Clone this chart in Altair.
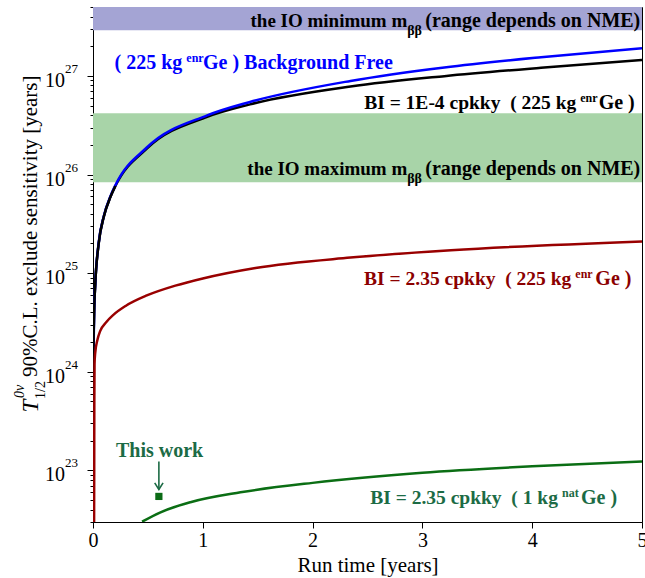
import altair as alt
import pandas as pd

FONT = "Liberation Serif"

# ---------------- data ----------------
# run time [years] and T1/2 sensitivity [years]
blue_t = [0.003, 0.01, 0.021, 0.051, 0.10, 0.158, 0.204, 0.49, 1.04, 1.43, 2.345, 3.2, 4.08, 5.0]
blue_v = [1.15e24, 3.85e24, 8.0e24, 2.0e25, 3.85e25, 6.0e25, 7.8e25, 1.88e26, 3.98e26, 5.45e26, 8.9e26, 1.22e27, 1.55e27, 1.91e27]

black_t = [0.002, 0.004, 0.01, 0.021, 0.051, 0.10, 0.158, 0.204, 0.49, 1.04, 1.43, 2.345, 3.2, 4.08, 5.0]
black_v = [3.0e23, 1.5e24, 3.85e24, 7.9e24, 1.97e25, 3.8e25, 5.9e25, 7.65e25, 1.83e26, 3.85e26, 5.15e26, 7.8e26, 9.95e26, 1.21e27, 1.45e27]

red_t = [0.010, 0.011, 0.012, 0.014, 0.02, 0.04, 0.066, 0.12, 0.188, 0.30, 0.49, 0.75, 1.0, 1.48, 2.345, 3.26, 5.0]
red_v = [3.0e22, 1.0e23, 5.0e23, 1.2e24, 1.55e24, 2.1e24, 2.6e24, 3.18e24, 3.8e24, 4.68e24, 5.95e24, 7.48e24,
         8.85e24, 1.13e25, 1.44e25, 1.71e25, 2.10e25]

green_t = [0.447, 0.61, 0.887, 1.343, 2.0, 3.0, 4.0, 5.0]
green_v = [3.02e22, 3.74e22, 4.76e22, 6.0e22, 7.48e22, 9.46e22, 1.10e23, 1.23e23]

# "This work" point
point_t = [0.6]
point_v = [5.45e22]

# IO bands (lower, upper)
band_lo = [2.91e27, 8.34e25]
band_hi = [5.0e27, 4.18e26]

# axis ticks
x_ticks = [0, 1, 2, 3, 4, 5]
y_major_exp = [23, 24, 25, 26, 27]

# annotation texts
txt_io_min = ["the IO minimum m", "ββ", "(range depends on NME)"]
txt_io_max = ["the IO maximum m", "ββ", "(range depends on NME)"]
txt_bf = ["( 225 kg", "enr", "Ge ) Background Free"]
txt_bi4 = ["BI = 1E-4 cpkky\u00a0\u00a0( 225 kg", "enr", "Ge )"]
txt_bi235 = ["BI = 2.35 cpkky\u00a0\u00a0( 225 kg", "enr", "Ge )"]
txt_nat = ["BI = 2.35 cpkky\u00a0\u00a0( 1 kg", "nat", "Ge )"]
txt_this = "This work"

# ---------------- layout ----------------
W, H = 549, 515
X0, X1 = 0, 5
Y0, Y1 = 3e22, 5e27

xscale = alt.Scale(domain=[X0, X1], nice=False, zero=False)
yscale = alt.Scale(type="log", domain=[Y0, Y1], nice=False)

y_tick_values = []
for e in range(22, 28):
    for m in range(1, 10):
        val = m * 10.0 ** e
        if Y0 * 0.999 <= val <= Y1 * 1.001:
            y_tick_values.append(val)

major_test = "abs(log(datum.value)/LN10 - round(log(datum.value)/LN10)) < 0.001"

xaxis = alt.Axis(values=x_ticks, format="d", title="Run time [years]",
                 titleFont=FONT, titleFontSize=21, titleFontWeight="normal",
                 titleColor="black", titlePadding=4,
                 labelFont=FONT, labelFontSize=20, labelColor="black",
                 labelPadding=2, tickSize=6, tickColor="black",
                 domainColor="black", grid=False, labelFlush=False)
yaxis = alt.Axis(values=y_tick_values, labels=False, title=None, grid=False,
                 tickColor="black", domainColor="black",
                 tickSize={"condition": {"test": major_test, "value": 6}, "value": 3})

X = alt.X("t:Q", scale=xscale, axis=xaxis)
Y = alt.Y("v:Q", scale=yscale, axis=yaxis)

layers = []

# bands
band_colors = ["#a4a4d4", "#a8d4a8"]
for lo, hi, c in zip(band_lo, band_hi, band_colors):
    df = pd.DataFrame({"t": [X0], "t2": [X1], "v": [lo], "v2": [hi]})
    layers.append(alt.Chart(df).mark_rect(color=c, clip=True).encode(
        x=X, x2="t2:Q", y=Y, y2="v2:Q"))


def curve(t, v, color):
    df = pd.DataFrame({"t": t, "v": v})
    return alt.Chart(df).mark_line(color=color, strokeWidth=2.5,
                                   interpolate="monotone", clip=True).encode(x=X, y=Y)


layers.append(curve(black_t, black_v, "black"))
layers.append(curve(blue_t, blue_v, "#0000ff"))
layers.append(curve(black_t, black_v, "black").transform_filter("datum.t < 0.25"))
layers.append(curve(red_t, red_v, "#990000"))
layers.append(curve(green_t, green_v, "#0b6e14"))

# "This work" point + arrow
GREEN_TXT = "#1c6b45"
pdf = pd.DataFrame({"t": point_t, "v": point_v})
layers.append(alt.Chart(pdf).mark_square(size=52, color="#0b6b16", opacity=1).encode(x=X, y=Y))
arr = pd.DataFrame({"t": [0.6], "v": [1.23e23], "v2": [6.4e22]})
layers.append(alt.Chart(arr).mark_rule(color=GREEN_TXT, strokeWidth=1.6).encode(x=X, y=Y, y2="v2:Q"))
tip = pd.DataFrame({"t": [0.6], "v": [6.4e22]})
layers.append(alt.Chart(tip).mark_point(shape="M-1,-1.6L0,0L1,-1.6", filled=False, size=70,
                                        color=GREEN_TXT, strokeWidth=1.6, opacity=1).encode(x=X, y=Y))


def txt(text, t, v, color, size=20, align="left", dy=0, dx=0, weight="bold", style="normal"):
    df = pd.DataFrame({"t": [t], "v": [v], "s": [text]})
    return alt.Chart(df).mark_text(align=align, baseline="middle", dy=dy, dx=dx, fontSize=size,
                                   font=FONT, fontWeight=weight, fontStyle=style,
                                   color=color).encode(x=X, y=Y, text="s:N")


def label3(parts, xs, v, color, small=12, sdy=-5, gap=4, head=19.5, tail=20):
    # first part right-aligned just before the small script, script, then the rest
    return [txt(parts[0], xs[0], v, color, size=head, align="right", dx=-gap),
            txt(parts[1], xs[0], v, color, size=small, dy=sdy),
            txt(parts[2], xs[1], v, color, size=tail)]


layers += label3(txt_io_min, [2.862, 3.026], 3.61e27, "black", small=14, sdy=10, gap=0, head=19)
layers += label3(txt_io_max, [2.862, 3.026], 1.13e26, "black", small=14, sdy=10, gap=0, head=19)
layers += label3(txt_bf, [0.850, 1.002], 1.346e27, "#0000ff", head=20)
layers += label3(txt_bi4, [4.438, 4.605], 5.28e26, "black")
layers += label3(txt_bi235, [4.393, 4.575], 8.83e24, "#8b0000")
layers += label3(txt_nat, [4.271, 4.444], 5.25e22, GREEN_TXT)
layers.append(txt(txt_this, 0.606, 1.56e23, GREEN_TXT, align="center"))

# y tick labels 10^n
ydf = pd.DataFrame({"v": [10.0 ** e for e in y_major_exp],
                    "base": ["10"] * len(y_major_exp),
                    "exp": [str(e) for e in y_major_exp]})
layers.append(alt.Chart(ydf).mark_text(align="right", baseline="middle", dy=5, fontSize=20,
                                       font=FONT, color="black").encode(
    x=alt.value(-28), y=Y, text="base:N"))
layers.append(alt.Chart(ydf).mark_text(align="left", baseline="middle", dy=-7, fontSize=13,
                                       font=FONT, color="black").encode(
    x=alt.value(-28), y=Y, text="exp:N"))

# y axis title pieces (rotated)
one = pd.DataFrame({"a": [0]})


def ytitle(text, xpx, ypx, size, style="normal", align="left"):
    return alt.Chart(one).mark_text(angle=270, align=align, baseline="middle", fontSize=size,
                                    font=FONT, fontStyle=style, color="black").encode(
        x=alt.value(xpx), y=alt.value(ypx), text=alt.value(text))


layers.append(ytitle("T", -62, 399, 23, style="italic", align="center"))
layers.append(ytitle("0ν", -73, 391, 14, style="italic"))
layers.append(ytitle("1/2", -52, 392, 14))
layers.append(ytitle("90%C.L. exclude sensitivity [years]", -62, 370, 21))

chart = alt.layer(*layers).properties(
    width=W, height=H,
    autosize=alt.AutoSizeParams(type="none"),
    padding={"left": 93, "top": 7, "right": 3, "bottom": 56},
    background="white",
).configure_view(stroke="black", strokeWidth=1)

chart.save("out.html", embed_options={"renderer": "svg", "actions": False})
